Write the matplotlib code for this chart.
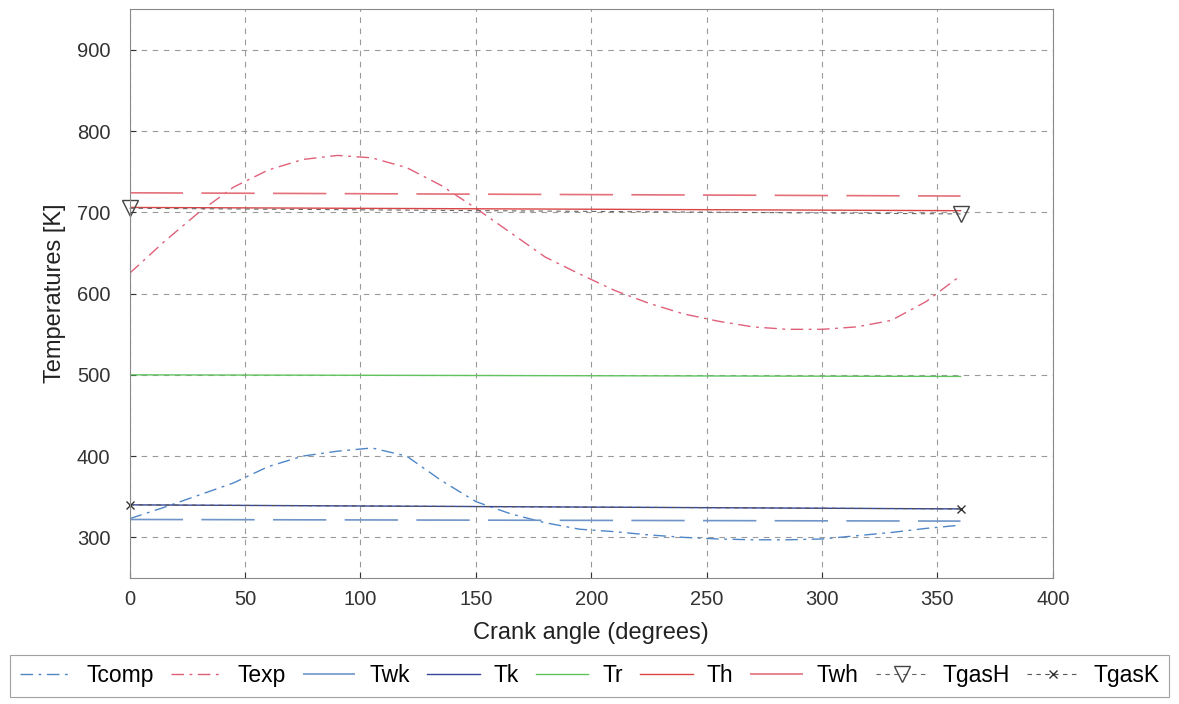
import matplotlib
matplotlib.use("Agg")
import matplotlib.pyplot as plt

plt.rcParams['font.family'] = ['Liberation Sans', 'DejaVu Sans']

# crank angle samples (degrees)
angle = list(range(0, 361, 15))

# gas temperatures in the working spaces [K]
t_comp = [323, 337, 352, 367, 387, 400, 406, 410, 400, 370, 344, 329, 318,
          310, 307, 303, 300, 298, 297, 297, 298, 302, 306, 311, 315]
t_exp = [625, 664, 700, 731, 752, 765, 770, 767, 755, 733, 705, 675, 645,
         624, 604, 588, 575, 566, 559, 556, 556, 559, 567, 590, 622]

# nearly constant wall / exchanger temperatures, start and end of cycle
ends = [0, 360]
t_wk = [322, 320]
t_k = [340, 335]
t_r = [500, 498]
t_h = [706, 702]
t_wh = [724, 720]
t_gas_h = [705, 698]
t_gas_k = [340, 335]


def main():
    fig = plt.figure(figsize=(11.79, 7.04), dpi=100)
    ax = fig.add_axes([0.110, 0.179, 0.783, 0.808])

    ax.plot(angle, t_comp, color='#4f86c6', lw=1.0, ls=(0, (9, 4, 2, 4)), label='Tcomp')
    ax.plot(angle, t_exp, color='#e0607a', lw=1.0, ls=(0, (9, 4, 2, 4)), label='Texp')
    ax.plot(ends, t_wk, color='#6f95c8', lw=1.2, ls=(0, (32, 11)), label='Twk')
    ax.plot(ends, t_k, color='#34479a', lw=1.0, label='Tk')
    ax.plot(ends, t_r, color='#5fc45f', lw=1.0, label='Tr')
    ax.plot(ends, t_h, color='#d94545', lw=1.0, label='Th')
    ax.plot(ends, t_wh, color='#e4707a', lw=1.2, ls=(0, (32, 11)), label='Twh')
    ax.plot(ends, t_gas_h, color='#666666', lw=0.8, ls=(0, (4, 4)), marker='v',
            ms=11, mfc='none', mec='#444444', clip_on=False, label='TgasH')
    ax.plot(ends, t_gas_k, color='#555555', lw=0.8, ls=(0, (4, 4)), marker='x',
            ms=6, mec='#333333', clip_on=False, label='TgasK')

    ax.set_xlim(0, 400)
    ax.set_ylim(250, 950)
    ax.set_xticks(range(0, 401, 50))
    ax.set_yticks(range(300, 901, 100))
    ax.grid(True, color='#9a9a9a', lw=0.8, ls=(0, (5, 5)))
    ax.tick_params(direction='in', length=4, labelsize=14.5, colors='#333333')
    ax.tick_params(axis='x', pad=9)
    ax.tick_params(axis='y', pad=14)
    for s in ax.spines.values():
        s.set_color('#8a8a8a')

    ax.set_xlabel('Crank angle (degrees)', fontsize=17, color='#222222', labelpad=9)
    ax.set_ylabel('Temperatures [K]', fontsize=17, color='#222222', labelpad=8)

    leg = fig.legend(loc='center', bbox_to_anchor=(0.5, 0.04), ncol=9,
                     fontsize=16.5, handlelength=2.3, columnspacing=0.75,
                     handletextpad=0.6, borderpad=0.4, borderaxespad=0.2,
                     fancybox=False, frameon=True)
    leg.get_frame().set_edgecolor('#8a8a8a')
    leg.get_frame().set_linewidth(0.8)

    fig.savefig('out.png', dpi=100)


if __name__ == "__main__":
    main()
